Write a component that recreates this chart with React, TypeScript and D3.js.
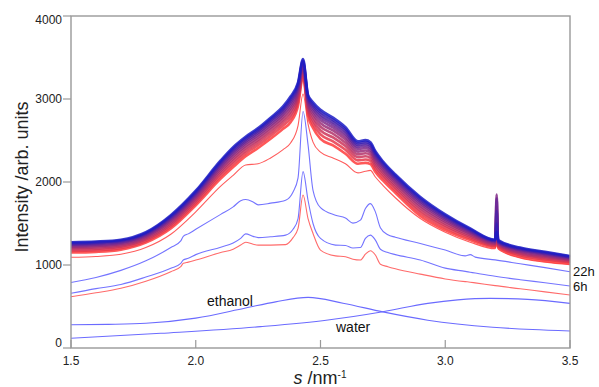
import * as d3 from "d3";

// scattering vector grid for the band of time-resolved curves
const bandS = [1.5, 1.6, 1.7, 1.8, 1.9, 2.0, 2.1, 2.15, 2.2, 2.25, 2.3, 2.35, 2.38, 2.41, 2.43, 2.45, 2.47, 2.5, 2.55, 2.6, 2.65, 2.68, 2.7, 2.72, 2.75, 2.8, 2.9, 3.0, 3.1, 3.2, 3.206, 3.212, 3.3, 3.4, 3.5];

// separated lowest red curve of the band
const bandR = [1093, 1103, 1130, 1210, 1370, 1640, 1950, 2080, 2205, 2220, 2290, 2390, 2470, 2680, 3060, 2700, 2480, 2360, 2290, 2220, 2110, 2130, 2140, 2060, 1960, 1810, 1560, 1395, 1275, 1195, 1280, 1192, 1085, 1035, 1005];
// band curves, earliest (red) to latest (blue)
const band0 = [1150, 1158, 1185, 1270, 1440, 1720, 2040, 2180, 2310, 2410, 2520, 2640, 2720, 2920, 3270, 2800, 2650, 2520, 2440, 2340, 2220, 2230, 2215, 2120, 2020, 1870, 1590, 1420, 1300, 1215, 1320, 1211, 1100, 1050, 1020];
const band1 = [1169, 1177, 1203, 1289, 1464, 1746, 2073, 2216, 2345, 2446, 2558, 2681, 2767, 2962, 3302, 2838, 2697, 2573, 2490, 2388, 2261, 2271, 2255, 2158, 2055, 1903, 1625, 1449, 1321, 1229, 1380, 1224, 1117, 1067, 1033];
const band2 = [1186, 1194, 1220, 1306, 1486, 1771, 2104, 2250, 2378, 2480, 2594, 2718, 2810, 3001, 3331, 2873, 2740, 2622, 2537, 2433, 2298, 2310, 2292, 2193, 2087, 1934, 1657, 1475, 1341, 1241, 1450, 1235, 1132, 1082, 1046];
const band3 = [1203, 1211, 1235, 1323, 1507, 1794, 2132, 2281, 2409, 2511, 2627, 2753, 2850, 3038, 3358, 2905, 2780, 2667, 2581, 2474, 2333, 2346, 2326, 2225, 2117, 1962, 1687, 1500, 1359, 1253, 1550, 1246, 1146, 1096, 1057];
const band4 = [1218, 1226, 1250, 1338, 1526, 1815, 2159, 2310, 2437, 2540, 2658, 2786, 2887, 3071, 3383, 2935, 2817, 2709, 2621, 2513, 2366, 2379, 2358, 2255, 2144, 1989, 1714, 1523, 1376, 1264, 1700, 1256, 1159, 1109, 1068];
const band5 = [1231, 1239, 1263, 1351, 1544, 1834, 2183, 2336, 2463, 2566, 2686, 2816, 2922, 3102, 3407, 2963, 2852, 2748, 2658, 2548, 2396, 2409, 2387, 2283, 2170, 2013, 1740, 1544, 1391, 1274, 1850, 1266, 1172, 1122, 1077];
const band6 = [1244, 1252, 1275, 1364, 1560, 1851, 2205, 2360, 2486, 2590, 2711, 2843, 2953, 3130, 3428, 2988, 2883, 2783, 2691, 2580, 2423, 2436, 2414, 2308, 2193, 2035, 1763, 1563, 1405, 1283, 1800, 1274, 1183, 1133, 1086];
const band7 = [1255, 1263, 1286, 1375, 1574, 1867, 2225, 2382, 2507, 2612, 2734, 2867, 2980, 3155, 3446, 3010, 2910, 2814, 2721, 2609, 2447, 2461, 2438, 2330, 2213, 2055, 1783, 1580, 1418, 1291, 1650, 1282, 1192, 1142, 1094];
const band8 = [1265, 1273, 1295, 1385, 1587, 1881, 2242, 2401, 2526, 2631, 2755, 2888, 3005, 3178, 3463, 3030, 2935, 2842, 2748, 2634, 2468, 2483, 2459, 2350, 2232, 2072, 1802, 1595, 1429, 1298, 1500, 1288, 1201, 1151, 1101];
const band9 = [1275, 1283, 1305, 1395, 1600, 1895, 2260, 2420, 2545, 2650, 2775, 2910, 3030, 3200, 3480, 3050, 2960, 2870, 2775, 2660, 2490, 2505, 2480, 2370, 2250, 2090, 1820, 1610, 1440, 1305, 1400, 1300, 1210, 1160, 1108];

// early curves (6h .. 22h region), shared grid
const lineS = [1.5, 1.6, 1.7, 1.8, 1.9, 1.94, 1.95, 1.97, 2.0, 2.1, 2.15, 2.18, 2.2, 2.23, 2.25, 2.3, 2.36, 2.39, 2.41, 2.43, 2.45, 2.47, 2.5, 2.56, 2.6, 2.63, 2.66, 2.68, 2.7, 2.72, 2.74, 2.77, 2.8, 2.9, 3.0, 3.08, 3.1, 3.12, 3.2, 3.3, 3.4, 3.5];
const curveA = [790, 850, 935, 1050, 1210, 1290, 1345, 1375, 1430, 1610, 1700, 1775, 1790, 1760, 1725, 1745, 1780, 1880, 2050, 2850, 2450, 1900, 1690, 1600, 1565, 1505, 1540, 1680, 1740, 1640, 1450, 1365, 1335, 1260, 1180, 1110, 1125, 1095, 1062, 1015, 968, 919];
const curveB = [659, 715, 765, 855, 960, 1020, 1060, 1080, 1125, 1215, 1265, 1320, 1375, 1345, 1330, 1340, 1360, 1430, 1560, 2125, 1780, 1500, 1320, 1240, 1235, 1205, 1210, 1320, 1360, 1300, 1190, 1150, 1125, 1060, 962, 923, 913, 903, 864, 823, 786, 747];
const curveC = [618, 665, 720, 805, 920, 980, 1020, 1035, 1060, 1150, 1190, 1240, 1275, 1250, 1240, 1240, 1245, 1330, 1440, 1843, 1560, 1380, 1180, 1110, 1100, 1070, 1060, 1130, 1172, 1120, 1010, 980, 955, 890, 832, 800, 793, 785, 751, 714, 676, 639];

// reference liquids
const ethanolS = [1.5, 1.65, 1.8, 2.0, 2.2, 2.32, 2.45, 2.59, 2.75, 2.93, 3.19, 3.35, 3.5];
const ethanolI = [280, 285, 298, 360, 482, 556, 610, 540, 435, 335, 250, 222, 205];
const waterS = [1.5, 1.86, 2.26, 2.53, 2.75, 2.93, 3.05, 3.18, 3.33, 3.5];
const waterI = [117, 177, 257, 337, 437, 538, 580, 598, 586, 538];

const xTicks = [1.5, 2.0, 2.5, 3.0, 3.5];
const yTicks = [0, 1000, 2000, 3000, 4000];

const font = "'Liberation Sans', Arial, sans-serif";

export default function App() {
    const x = d3.scaleLinear().domain([1.5, 3.5]).range([71, 570]);
    const y = d3.scaleLinear().domain([0, 4000]).range([348, 16]);

    const path = (s: number[], v: number[]) =>
        d3
            .line<number>()
            .x((_, i) => x(s[i]))
            .y((d) => y(d))
            .curve(d3.curveMonotoneX)(v) ?? "";

    const band = [band0, band1, band2, band3, band4, band5, band6, band7, band8, band9];
    const bandColor = d3
        .scaleLinear<string>()
        .domain([0, band.length - 1])
        .range(["#ff3b3b", "#1c1cc4"])
        .interpolate(d3.interpolateRgb);

    return (
        <svg
            width={599}
            height={387}
            style={{ position: "absolute", left: 0, top: 0, background: "#fff" }}
            fontFamily={font}
        >
            {/* reference liquids */}
            <path d={path(waterS, waterI)} fill="none" stroke="#6b6bff" strokeWidth={1.1} />
            <path d={path(ethanolS, ethanolI)} fill="none" stroke="#6b6bff" strokeWidth={1.1} />

            {/* early curves */}
            <path d={path(lineS, curveC)} fill="none" stroke="#ff6b6b" strokeWidth={1.1} />
            <path d={path(lineS, curveB)} fill="none" stroke="#7474ff" strokeWidth={1.1} />
            <path d={path(lineS, curveA)} fill="none" stroke="#7474ff" strokeWidth={1.1} />

            {/* band */}
            <path d={path(bandS, bandR)} fill="none" stroke="#ff5c5c" strokeWidth={1.1} />
            {band.map((b, i) => (
                <path
                    key={i}
                    d={path(bandS, b)}
                    fill="none"
                    stroke={bandColor(i)}
                    strokeOpacity={0.85}
                    strokeWidth={i === band.length - 1 ? 2.6 : 2.6}
                />
            ))}

            {/* frame */}
            <rect x={71} y={16} width={499} height={332} fill="none" stroke="#999" strokeWidth={1.4} />

            {/* y axis */}
            {yTicks.map((t) => (
                <g key={t}>
                    <line x1={63} x2={71} y1={y(t)} y2={y(t)} stroke="#999" strokeWidth={1.2} />
                    <text
                        x={62}
                        y={Math.min(347, Math.max(24, y(t) + 4))}
                        textAnchor="end"
                        fontSize={12}
                        fill="#222"
                    >
                        {t}
                    </text>
                </g>
            ))}

            {/* x axis */}
            {xTicks.map((t) => (
                <g key={t}>
                    <line x1={x(t)} x2={x(t)} y1={348} y2={340} stroke="#999" strokeWidth={1.2} />
                    <text x={x(t)} y={365} textAnchor="middle" fontSize={12} fill="#222">
                        {t.toFixed(1)}
                    </text>
                </g>
            ))}

            <text x={320} y={384} textAnchor="middle" fontSize={18} fill="#222">
                <tspan fontStyle="italic">s</tspan> /nm
                <tspan dy={-6} fontSize={10}>
                    -1
                </tspan>
            </text>
            <text transform="translate(28,177) rotate(-90)" textAnchor="middle" fontSize={18} fill="#222">
                Intensity /arb. units
            </text>

            <text x={573} y={276} fontSize={13} fill="#111">
                22h
            </text>
            <text x={573} y={291} fontSize={13} fill="#111">
                6h
            </text>
            <text x={207} y={306} fontSize={14} fill="#111">
                ethanol
            </text>
            <text x={336} y={332} fontSize={14} fill="#111">
                water
            </text>
        </svg>
    );
}
